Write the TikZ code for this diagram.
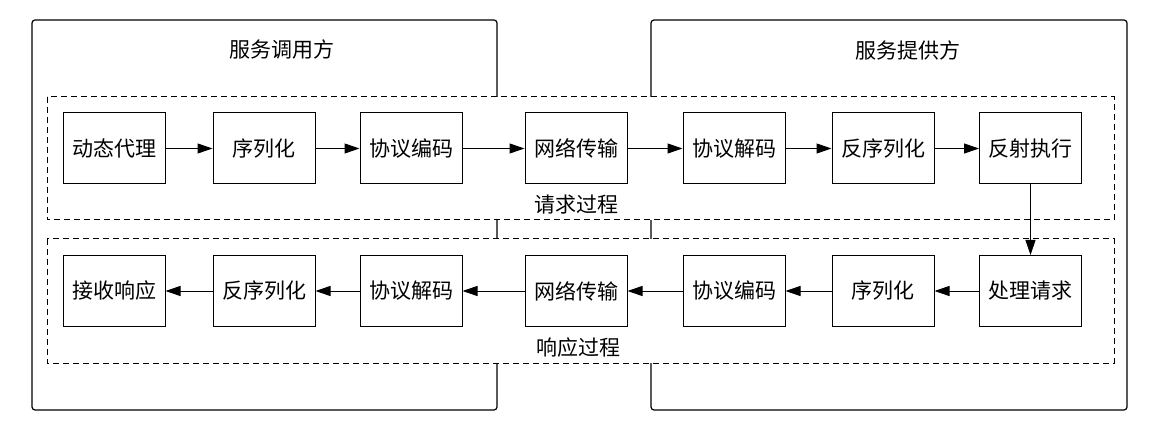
\documentclass[tikz,border=0pt]{standalone}
\usepackage{fontspec}
\newfontfamily\cjk{Noto Sans CJK SC}
\usetikzlibrary{arrows.meta}
\tikzset{
  sidebox/.style={draw, line width=0.6pt, rounded corners=1.5pt},
  stagebox/.style={draw, fill=white, line width=0.5pt, dash pattern=on 3pt off 2pt},
  procbox/.style={draw, line width=0.5pt, minimum width=51pt, minimum height=35.5pt,
    inner sep=0pt, font=\cjk\fontsize{10.5}{12}\selectfont},
  lbl/.style={inner sep=0pt, font=\cjk\fontsize{10.5}{12}\selectfont},
  flow/.style={-{Triangle[length=7.5pt,width=5pt]}, line width=0.5pt}
}
\begin{document}
\begin{tikzpicture}[x=0.5pt,y=-0.5pt]
  \useasboundingbox (0,0) rectangle (1156,427);

  % both sides
  \draw[sidebox] (32,20) rectangle (497,410);
  \draw[sidebox] (651,20) rectangle (1127,410);
  \node[lbl] (caller) at (282,50) {服务调用方};
  \node[lbl] (provider) at (908,50) {服务提供方};

  % request / response stages
  \draw[stagebox] (47,97) rectangle (1114,220);
  \draw[stagebox] (47,239) rectangle (1114,363);
  \node[lbl] (reqlbl) at (576,205) {请求过程};
  \node[lbl] (resplbl) at (578,348) {响应过程};

  \foreach \i/\x/\txt in {1/114/动态代理, 2/264/序列化, 3/411/协议编码, 4/576/网络传输,
      5/734/协议解码, 6/883/反序列化, 7/1030.5/反射执行}{
    \node[procbox] (q\i) at (\x,148.5) {\txt};
  }
  \foreach \i/\x/\txt in {1/114/接收响应, 2/264/反序列化, 3/411/协议解码, 4/576/网络传输,
      5/734/协议编码, 6/883/序列化, 7/1030.5/处理请求}{
    \node[procbox] (r\i) at (\x,291) {\txt};
  }

  \foreach \i [evaluate={\j=int(\i+1);}] in {1,...,6}{
    \draw[flow] (q\i) -- (q\j);
    \draw[flow] (r\j) -- (r\i);
  }
  \draw[flow] (q7) -- (r7);

\end{tikzpicture}
\end{document}
